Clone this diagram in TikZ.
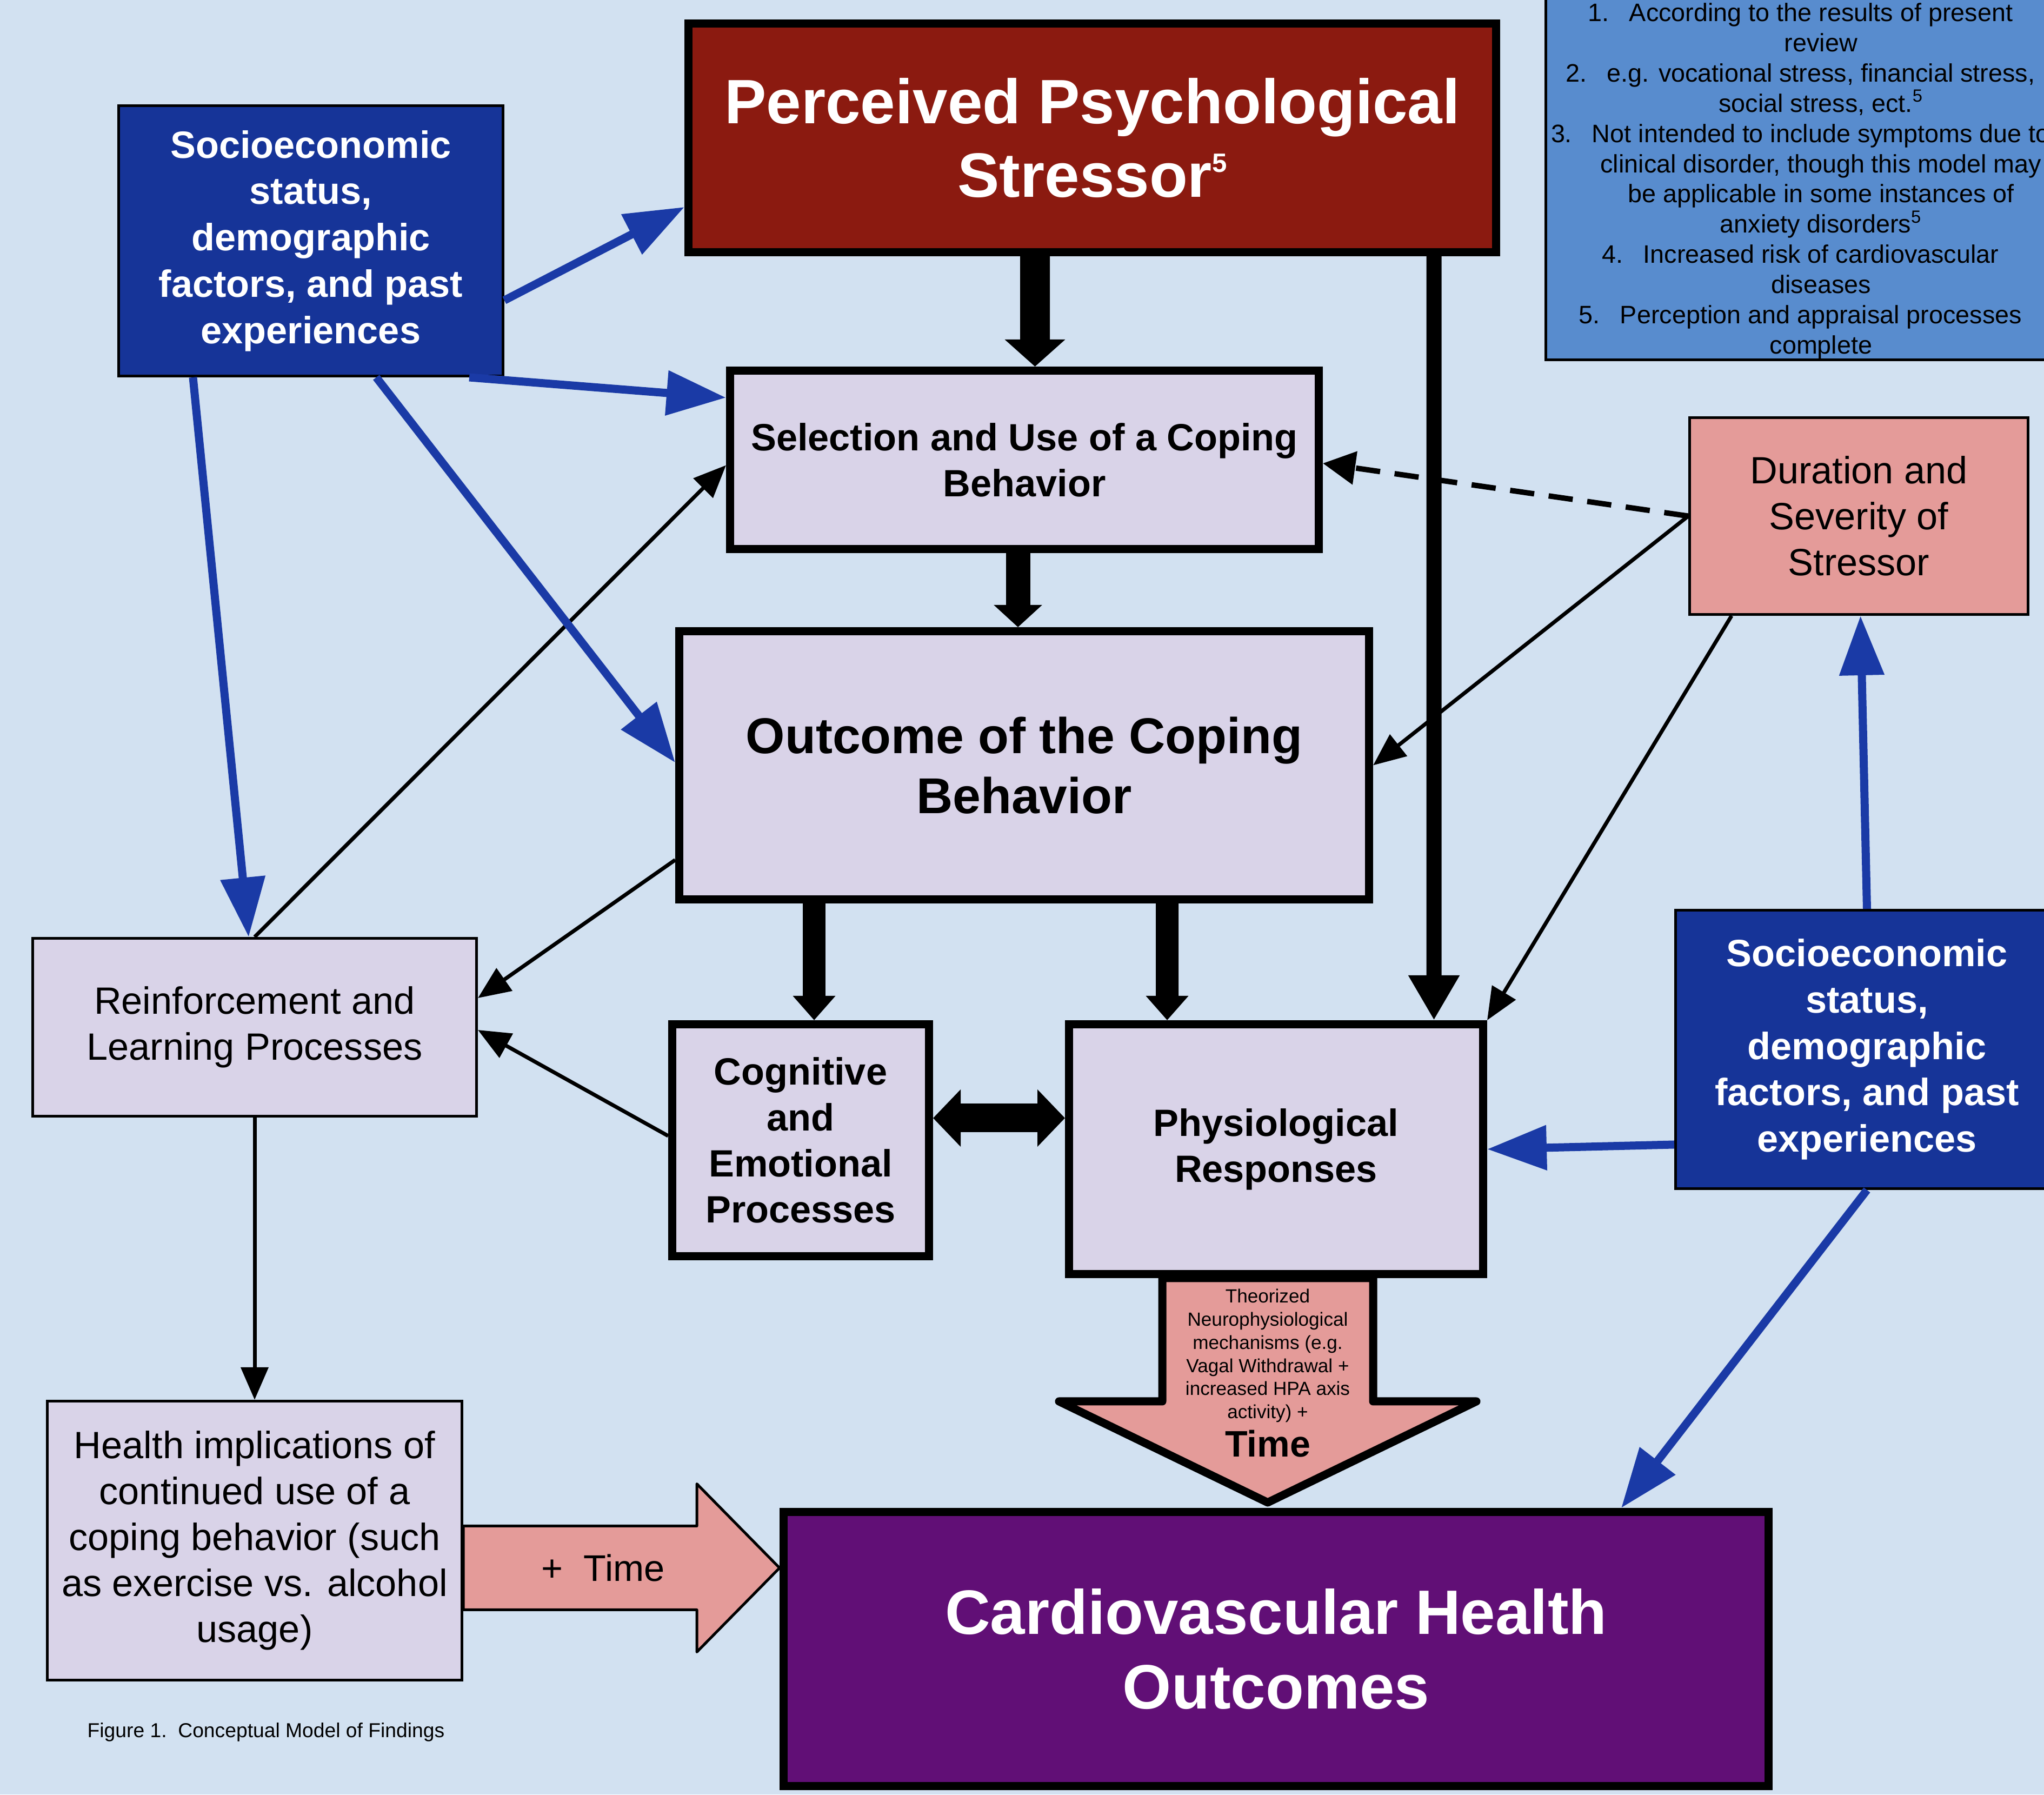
\documentclass[tikz,border=0pt]{standalone}
\usepackage{fontspec}
\setmainfont{Liberation Sans}
\usepackage{xcolor}
\definecolor{bgblue}{RGB}{210,225,241}
\definecolor{stressred}{RGB}{139,26,16}
\definecolor{sesblue}{RGB}{22,52,152}
\definecolor{linkblue}{RGB}{26,58,166}
\definecolor{noteblue}{RGB}{88,140,206}
\definecolor{lavbox}{RGB}{217,211,232}
\definecolor{pinkbox}{RGB}{228,155,153}
\definecolor{cvpurple}{RGB}{97,15,118}
\usepackage{tikz}
\usetikzlibrary{
    arrows.meta,
    calc
}

\begin{document}
\begin{tikzpicture}[
    every text node part/.style={align=center},
    box/.style={draw=black, inner sep=0pt},
    mainbox/.style={box, line width=0.15cm, fill=lavbox, font=\fontsize{20}{24.2}\selectfont\bfseries},
    plainbox/.style={box, line width=0.05cm, fill=lavbox, font=\fontsize{20}{24.2}\selectfont},
    sesbox/.style={box, line width=0.05cm, fill=sesblue, text=white, font=\fontsize{20}{24.4}\selectfont\bfseries},
    bluelink/.style={draw=linkblue, line width=0.15cm, -{Triangle[width=0.8cm, length=1.1cm]}},
    thinlink/.style={draw=black, line width=0.07cm, -{Triangle[width=0.5cm, length=0.6cm]}},
    fatlink/.style={draw=black, line width=0.42cm, -{Triangle[width=0.76cm, length=0.45cm]}},
    timearrow/.style={draw=black, fill=pinkbox, line join=round}
]

% Canvas
\useasboundingbox (0,0) rectangle (37.81,33.19);
\fill[bgblue] (0,0) rectangle (37.81,33.19);
\clip (0,0) rectangle (37.81,33.19);

% Top row
\node[sesbox, minimum width=7.11cm, minimum height=5.0cm] (sesA) at (5.75, 28.735)
    {Socioeconomic\\status,\\demographic\\factors, and past\\experiences};
\node[box, line width=0.15cm, fill=stressred, text=white, font=\fontsize{33}{38.5}\selectfont\bfseries,
    minimum width=14.94cm, minimum height=4.23cm] (stressor) at (20.205, 30.64)
    {Perceived Psychological\\Stressor\raisebox{13pt}{\fontsize{14}{14}\selectfont 5}};
\node[box, line width=0.05cm, fill=noteblue, minimum width=10.18cm, minimum height=6.83cm]
    (notes) at (33.685, 29.95) {};
\node[font=\fontsize{13.3}{15.9}\selectfont] (notetext) at (33.685, 29.84)
    {\llap{1.\hspace{0.37cm}}According to the results of present\\
     review\\
     \llap{2.\hspace{0.37cm}}e.g. vocational stress, financial stress,\\
     social stress, ect.\textsuperscript{5}\\
     \llap{3.\hspace{0.37cm}}Not intended to include symptoms due to\\
     clinical disorder, though this model may\\
     be applicable in some instances of\\
     anxiety disorders\textsuperscript{5}\\
     \llap{4.\hspace{0.37cm}}Increased risk of cardiovascular\\
     diseases\\
     \llap{5.\hspace{0.37cm}}Perception and appraisal processes\\
     complete};

% Coping chain
\node[mainbox, minimum width=10.89cm, minimum height=3.30cm] (sel) at (18.95, 24.685)
    {Selection and Use of a Coping\\Behavior};
\node[box, line width=0.05cm, fill=pinkbox, font=\fontsize{20}{24.2}\selectfont,
    minimum width=6.26cm, minimum height=3.64cm] (dur) at (34.385, 23.645)
    {Duration and\\Severity of\\Stressor};
\node[mainbox, font=\fontsize{26.5}{31.6}\selectfont\bfseries, minimum width=12.76cm, minimum height=4.96cm]
    (outc) at (18.945, 19.035) {Outcome of the Coping\\Behavior};
\node[plainbox, minimum width=8.21cm, minimum height=3.29cm] (reinf) at (4.71, 14.19)
    {Reinforcement and\\Learning Processes};
\node[mainbox, minimum width=4.75cm, minimum height=4.29cm] (cogn) at (14.81, 12.10)
    {Cognitive\\and\\Emotional\\Processes};
\node[mainbox, minimum width=7.66cm, minimum height=4.62cm] (phys) at (23.605, 11.935)
    {Physiological\\Responses};
\node[sesbox, minimum width=7.08cm, minimum height=5.15cm] (sesB) at (34.535, 13.78)
    {Socioeconomic\\status,\\demographic\\factors, and past\\experiences};

% Bottom row
\node[plainbox, minimum width=7.67cm, minimum height=5.16cm] (health) at (4.71, 4.695)
    {Health implications of\\continued use of a\\coping behavior (such\\as exercise vs. alcohol\\usage)};
\node[box, line width=0.15cm, fill=cvpurple, text=white, font=\fontsize{33}{39.5}\selectfont\bfseries,
    minimum width=18.22cm, minimum height=5.07cm] (cardio) at (23.605, 2.69)
    {Cardiovascular Health\\Outcomes};
\node[font=\fontsize{10.6}{12.7}\selectfont] (caption) at (4.92, 1.15)
    {Figure 1.\ \ Conceptual Model of Findings};

% Thin black links
\draw[thinlink] (reinf.north) -- ([yshift=-0.1cm]sel.west);
\draw[thinlink] ([yshift=-1.75cm]outc.west) -- ([yshift=0.54cm]reinf.east);
\draw[thinlink] ([yshift=0.08cm]cogn.west) -- ([yshift=-0.05cm]reinf.east);
\draw[thinlink] (reinf.south) -- (health.north);
\draw[thinlink, line width=0.1cm, dash pattern=on 0.45cm off 0.27cm, -{Triangle[width=0.6cm, length=0.6cm]}]
    (dur.west) -- ([yshift=-0.065cm]sel.east);
\draw[thinlink] (dur.west) -- (outc.east);
\draw[thinlink] ([xshift=-2.355cm]dur.south) -- (phys.north east);

% Fat black links
\draw[fatlink, line width=0.55cm, -{Triangle[width=1.09cm, length=0.5cm]}]
    ([xshift=-1.06cm]stressor.south) -- ($(stressor.south |- sel.north)+(-1.06,0)$);
\draw[fatlink, line width=0.45cm, -{Triangle[width=0.87cm, length=0.41cm]}]
    ([xshift=-0.12cm]sel.south) -- ($(sel.south |- outc.north)+(-0.12,0)$);
\draw[fatlink] ($(cogn.north |- outc.south)+(0.25,0)$) -- ([xshift=0.25cm]cogn.north);
\draw[fatlink] ($(phys.north |- outc.south)+(-2.015,0)$) -- ([xshift=-2.015cm]phys.north);
\draw[fatlink, line width=0.28cm, -{Triangle[width=0.89cm, length=0.83cm]}]
    ([xshift=6.32cm]stressor.south) -- ($(stressor.south |- phys.north)+(6.32,0)$);
\draw[fatlink, line width=0.53cm, {Triangle[width=1.03cm, length=0.51cm]}-{Triangle[width=1.03cm, length=0.51cm]}]
    ([yshift=0.41cm]cogn.east) -- ($(phys.west |- cogn.east)+(0,0.41)$);

% Blue links
\draw[bluelink] ([yshift=-1.1cm]sesA.east) -- ([yshift=-1.28cm]stressor.west);
\draw[bluelink] ([xshift=2.93cm]sesA.south) -- ([yshift=1.15cm]sel.west);
\draw[bluelink] ([xshift=-2.18cm]sesA.south) -- ([xshift=-0.11cm]reinf.north);
\draw[bluelink] ([xshift=1.21cm]sesA.south) -- ([yshift=0.05cm]outc.west);
\draw[bluelink] (sesB.north) -- ([xshift=0.03cm]dur.south);
\draw[bluelink] ([yshift=-1.76cm]sesB.west) -- (phys.east);
\draw[bluelink] (sesB.south) -- ([xshift=6.385cm]cardio.north);

% Theorized mechanisms arrow
\coordinate (thtop) at ([xshift=-0.155cm]phys.south);
\coordinate (thtip) at ($(thtop |- cardio.north)+(0,0.1)$);
\draw[timearrow, line width=0.15cm] ([xshift=-1.95cm]thtop) -- ([xshift=1.95cm]thtop) -- ++(0,-2.28)
    -- ++(1.91,0) -- (thtip) -- ([xshift=-3.86cm, yshift=-2.28cm]thtop) -- ++(1.91,0) -- cycle;
\node[font=\fontsize{10}{12.2}\selectfont] (theory) at ([yshift=-1.435cm]thtop)
    {Theorized\\Neurophysiological\\mechanisms (e.g.\\Vagal Withdrawal +\\increased HPA axis\\activity) +};
\node[font=\fontsize{19.4}{23}\selectfont\bfseries] (thtime) at ([yshift=-3.06cm]thtop) {Time};

% Time arrow
\coordinate (tmid) at ([yshift=-0.505cm]health.east);
\coordinate (ttip) at (cardio.west |- tmid);
\draw[timearrow, line width=0.05cm] ([yshift=0.775cm]tmid) -- ($(ttip)+(-1.53,0.775)$) -- ++(0,0.78)
    -- (ttip) -- ($(ttip)+(-1.53,-1.555)$) -- ++(0,0.78) -- ([yshift=-0.775cm]tmid) -- cycle;
\node[font=\fontsize{19.5}{23}\selectfont] (plustime) at ([xshift=2.585cm]tmid) {+\ \ Time};

\end{tikzpicture}
\end{document}
